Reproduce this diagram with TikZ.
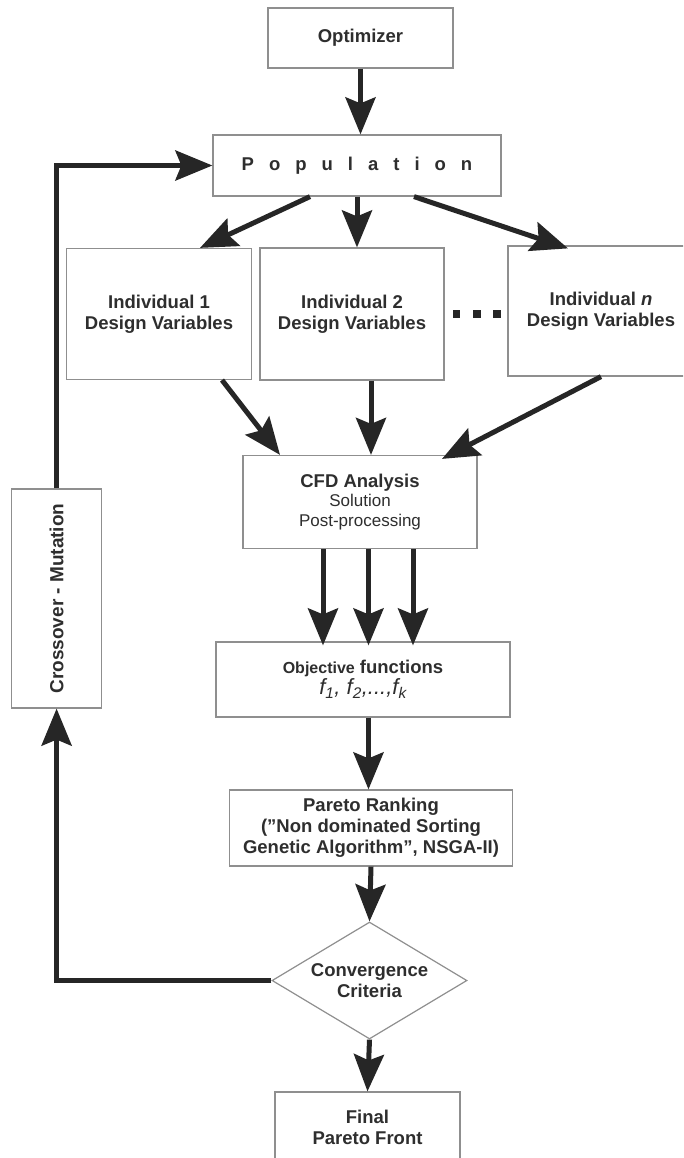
\documentclass[tikz,border=0pt]{standalone}
\usepackage{fontspec}
\setmainfont{Liberation Sans}
\usetikzlibrary{arrows.meta,shapes.geometric,calc}
\definecolor{txt}{HTML}{2E2E2E}
\definecolor{arw}{HTML}{262626}
\definecolor{bord}{HTML}{8F8F8F}
\begin{document}
\begin{tikzpicture}[x=1pt,y=-1pt,
  box/.style={draw=bord,line width=1.2pt,inner sep=0pt,align=center,text=txt,
    font=\bfseries\fontsize{18.5}{21}\selectfont},
  arr/.style={draw=arw,line width=5pt,-{Stealth[length=37pt,width=30pt,inset=6pt]}},
  sq/.style={fill=arw,minimum size=7.5pt,inner sep=0pt}]
\useasboundingbox (0,0) rectangle (683,1158);
\clip (0,0) rectangle (683,1158);
\fill[white] (0,0) rectangle (683,1158);
% nodes
\node[box,minimum width=185pt,minimum height=60pt] (opt) at (360.5,38) {Optimizer};
\node[box,minimum width=288pt,minimum height=61pt] (pop) at (357,165.5)
  {P\hspace{15pt}o\hspace{15pt}p\hspace{15pt}u\hspace{15pt}l\hspace{15pt}a\hspace{15pt}t\hspace{15pt}i\hspace{15pt}o\hspace{15pt}n};
\node[box,minimum width=185pt,minimum height=131pt] (ind1) at (159,314) {Individual 1\\Design Variables};
\node[box,minimum width=184pt,minimum height=132pt] (ind2) at (352,314) {Individual 2\\Design Variables};
\node[box,minimum width=186pt,minimum height=130pt] (indn) at (601,311) {Individual \textit{n}\\Design Variables};
\node[sq] (d1) at (456.5,314) {};
\node[sq] (d2) at (477,314) {};
\node[sq] (d3) at (497,314) {};
\node[box,minimum width=234pt,minimum height=93pt,font=\bfseries\fontsize{18.5}{19.5}\selectfont] (cfd) at (360,502)
  {CFD Analysis\\{\mdseries\fontsize{17}{19.5}\selectfont Solution}\\{\mdseries\fontsize{17}{19.5}\selectfont Post-processing}};
\node[box,minimum width=294pt,minimum height=75pt] (obj) at (363,679.5)
  {{\fontsize{16}{21}\selectfont Objective} functions\\{\mdseries\itshape\fontsize{22}{26}\selectfont f\textsubscript{1}, f\textsubscript{2},...,f\textsubscript{k}}};
\node[box,minimum width=283pt,minimum height=76pt] (par) at (371,828)
  {Pareto Ranking\\(”Non dominated Sorting\\Genetic Algorithm”, NSGA-II)};
\node[box,diamond,aspect=1.67,minimum width=195pt,minimum height=117pt] (conv) at (369.5,980.5) {Convergence\\Criteria};
\node[box,minimum width=185pt,minimum height=70pt] (fin) at (367.5,1127) {Final\\Pareto Front};
\node[box,minimum width=90pt,minimum height=219pt,font=\bfseries\fontsize{19}{22}\selectfont] (cm) at (56.6,598.5)
  {\rotatebox{90}{Crossover - Mutation}};
% connectors
\draw[arr] (opt.south) -- (opt.south |- pop.north);
\draw[arr] ([xshift=-47pt]pop.south) -- ([xshift=41pt]ind1.north);
\draw[arr] (pop.south) -- (pop.south |- ind2.north);
\draw[arr] ([xshift=57pt]pop.south) -- ([xshift=-33pt,yshift=-3pt]indn.north);
\draw[arr] ([xshift=63pt]ind1.south) -- ([xshift=-80pt]cfd.north);
\draw[arr] ([xshift=19pt]ind2.south) -- ([xshift=19pt]ind2.south |- cfd.north);
\draw[arr] (indn.south) -- ([xshift=82pt,yshift=-4pt]cfd.north);
\draw[arr] ([xshift=-37pt]cfd.south) -- ([xshift=-37pt,yshift=-4pt]cfd.south |- obj.north);
\draw[arr] ([xshift=8.5pt]cfd.south) -- ([xshift=8.5pt,yshift=-4pt]cfd.south |- obj.north);
\draw[arr] ([xshift=53pt]cfd.south) -- ([xshift=53pt,yshift=-4pt]cfd.south |- obj.north);
\draw[arr] ([xshift=5.5pt]obj.south) -- ([xshift=5.5pt]obj.south |- par.north);
\draw[arr] (par.south) -- (conv.north);
\draw[arr] (conv.south) -- (fin.north);
\draw[arr] (conv.west) -| (cm.south);
\draw[arr] (cm.north) |- (pop.west);
\end{tikzpicture}
\end{document}
